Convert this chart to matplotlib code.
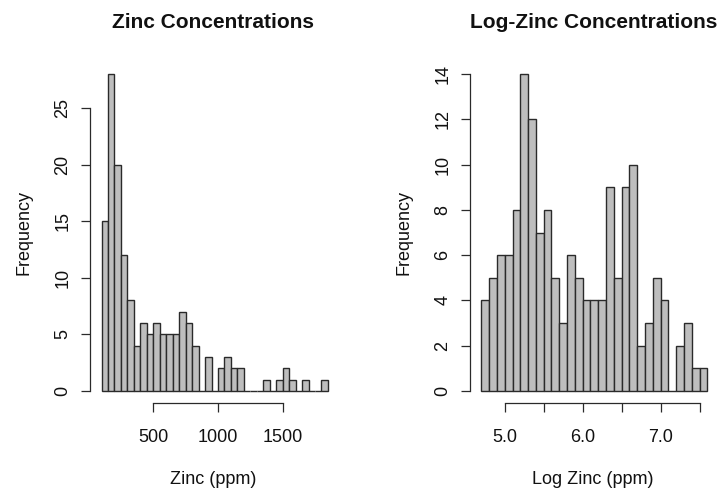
import numpy as np
import matplotlib
matplotlib.use("Agg")
import matplotlib.pyplot as plt

plt.rcParams['font.family'] = ['Liberation Sans', 'DejaVu Sans']

# zinc histogram: 50 ppm bins from 100 to 1850
zinc_edges = np.arange(100, 1851, 50)
zinc_counts = [15, 28, 20, 12, 8, 4, 6, 5, 6, 5, 5, 5, 7, 6, 4, 0, 3, 0,
               2, 3, 2, 2, 0, 0, 0, 1, 0, 1, 2, 1, 0, 1, 0, 0, 1]
zinc_xticks = [500, 1000, 1500]
zinc_yticks = [0, 5, 10, 15, 20, 25]

# log-zinc histogram: 0.1 bins from 4.7 to 7.6
logzinc_edges = np.round(np.arange(4.7, 7.61, 0.1), 1)
logzinc_counts = [4, 5, 6, 6, 8, 14, 12, 7, 8, 5, 3, 6, 5, 4, 4, 4, 9, 5,
                  9, 10, 2, 3, 5, 4, 0, 2, 3, 1, 1]
logzinc_xticks = [5.0, 5.5, 6.0, 6.5, 7.0, 7.5]
logzinc_xticklabels = ['5.0', '', '6.0', '', '7.0', '']
logzinc_yticks = [0, 2, 4, 6, 8, 10, 12, 14]

W, H = 725, 495
fig = plt.figure(figsize=(W / 100, H / 100), dpi=100)

bottom = (H - 403) / H
height = (403 - 61.5) / H
ax1 = fig.add_axes([90 / W, bottom, 247 / W, height])
ax2 = fig.add_axes([470 / W, bottom, 246.5 / W, height])

bar_face = '#bebebe'
edge = '#2a2a2a'


def style(ax, xlim, ylim, xticks, yticks, xbounds, ybounds, title, xlabel):
    ax.set_xlim(*xlim)
    ax.set_ylim(*ylim)
    for s in ['top', 'right']:
        ax.spines[s].set_visible(False)
    for s in ['left', 'bottom']:
        ax.spines[s].set_color(edge)
        ax.spines[s].set_linewidth(0.9)
    ax.spines['bottom'].set_bounds(*xbounds)
    ax.spines['left'].set_bounds(*ybounds)
    ax.set_xticks(xticks)
    ax.set_yticks(yticks)
    ax.tick_params(axis='both', length=6.5, width=0.9, color=edge,
                   labelsize=13, labelcolor='#111111')
    ax.tick_params(axis='x', pad=12)
    ax.tick_params(axis='y', pad=7)
    ax.set_title(title, fontsize=15, fontweight='bold', pad=24, color='#111111')
    ax.set_xlabel(xlabel, fontsize=13, labelpad=18, color='#111111')
    ax.set_ylabel('Frequency', fontsize=13, labelpad=16, color='#111111')


ax1.bar(zinc_edges[:-1], zinc_counts, width=np.diff(zinc_edges), align='edge',
        color=bar_face, edgecolor=edge, linewidth=1.0)
style(ax1, (10.8, 1920), (-1.06, 29.12), zinc_xticks, zinc_yticks,
      (500, 1500), (0, 25), 'Zinc Concentrations', 'Zinc (ppm)')

ax2.bar(logzinc_edges[:-1], logzinc_counts, width=np.diff(logzinc_edges), align='edge',
        color=bar_face, edgecolor=edge, linewidth=1.0)
style(ax2, (4.555, 7.716), (-0.53, 14.56), logzinc_xticks, logzinc_yticks,
      (5.0, 7.5), (0, 14), 'Log-Zinc Concentrations', 'Log Zinc (ppm)')
ax2.set_xticklabels(logzinc_xticklabels)

for ax in (ax1, ax2):
    for lab in ax.get_yticklabels():
        lab.set_rotation(90)
        lab.set_va('center')

fig.savefig('out.png', dpi=100)
